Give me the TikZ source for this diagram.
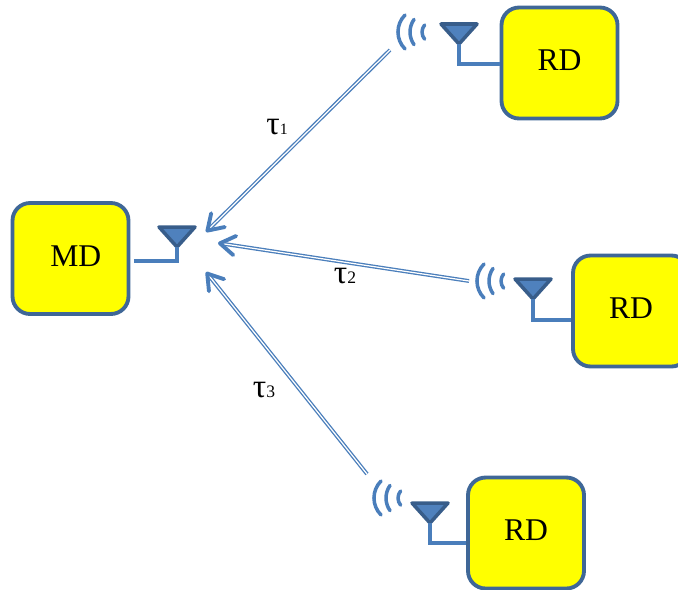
\documentclass[tikz,border=0pt]{standalone}
\usepackage{fontspec}
\setmainfont{Liberation Serif}
\usetikzlibrary{arrows.meta}
\definecolor{boxline}{HTML}{3F6797}
\definecolor{boxfill}{HTML}{FFFF00}
\definecolor{wireblue}{HTML}{4A7EBB}
\definecolor{antfill}{HTML}{4F81BD}
\definecolor{antline}{HTML}{385D8A}
\tikzset{
	device/.style={draw=boxline, line width=2.2pt, fill=boxfill, rounded corners=10pt, minimum width=2.32cm, minimum height=2.22cm, inner sep=0pt, font=\fontsize{18}{20}\selectfont},
	wire/.style={draw=wireblue, line width=2pt},
	signal/.style={draw=wireblue, double=white, double distance=0.7pt, line width=0.75pt, -{Straight Barb[length=8.5pt,width=11pt,line width=2.2pt,round]}},
	tau/.style={font=\fontsize{19}{20}\selectfont, inner sep=0pt}
}
\def\antenna(#1,#2){\draw[draw=antline, fill=antfill, line width=2pt, line join=round] (#1-18, #2+20) -- (#1+18, #2+20) -- (#1, #2) -- cycle;}
\def\waves(#1,#2){
	\draw[wire, line cap=round] (#1+7, #2+17) arc (135:225:24);
	\draw[wire, line cap=round] (#1+16, #2+12.6) arc (145:215:22);
	\draw[wire, line cap=round] (#1+26.6, #2+7) arc (140:220:11);
}
\begin{document}
\begin{tikzpicture}[x=0.02cm, y=0.02cm]
		\useasboundingbox (0, 0) rectangle (678, -589);
		\clip (0, 0) rectangle (678, -589);
		%%%%% boxes %%%%%
		\node[device] (md) at (70.5, -258.5) {\raisebox{3pt}{\hspace{6pt}MD}};
		\node[device] (rdtop) at (559.5, -63) {\raisebox{3pt}{RD}};
		\node[device] (rdmid) at (631, -311) {\raisebox{3pt}{RD}};
		\node[device] (rdlow) at (526, -533) {\raisebox{3pt}{RD}};
		
		%%%%% antennas %%%%%
		\coordinate (feedmd) at (177, -261);
		\coordinate (feedtop) at (459, -64);
		\coordinate (feedmid) at (533, -320);
		\coordinate (feedlow) at (430, -543);
		\antenna(177, -247);
		\draw[wire, shorten <=2pt] (md.east |- feedmd) -- (feedmd) -- (177, -247);
		\antenna(459, -44);
		\draw[wire] (rdtop.west |- feedtop) -- (feedtop) -- (459, -44);
		\antenna(533, -299);
		\draw[wire] (rdmid.west |- feedmid) -- (feedmid) -- (533, -299);
		\antenna(430, -523);
		\draw[wire] (rdlow.west |- feedlow) -- (feedlow) -- (430, -523);
		
		\waves(398, -32);
		\waves(477, -281);
		\waves(374, -498);
		
		%%%%% signals %%%%%
		\coordinate (top) at (390, -50);
		\coordinate (mid) at (469, -281);
		\coordinate (low) at (367, -474);
		\coordinate (intop) at (206, -232);
		\coordinate (inmid) at (218, -243);
		\coordinate (inlow) at (206, -272);
		\draw[signal] (top) -- (intop);
		\draw[signal] (mid) -- (inmid);
		\draw[signal] (low) -- (inlow);
		
		\node[tau] (tauone) at (277, -127) {τ{\fontsize{9}{10}\selectfont 1}};
		\node[tau] (tautwo) at (345, -276) {τ{\fontsize{10}{10}\selectfont 2}};
		\node[tau] (tauthree) at (264, -390) {τ{\fontsize{10}{10}\selectfont 3}};
	\end{tikzpicture}
\end{document}
